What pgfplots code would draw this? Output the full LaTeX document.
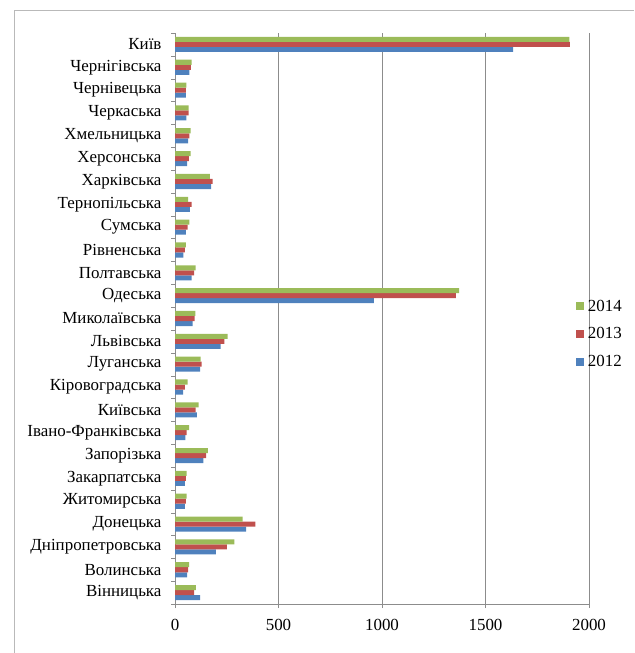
\documentclass[border=0pt]{standalone}
\usepackage{fontspec}
\setmainfont{Liberation Serif}
\usepackage{pgfplots}
\pgfplotsset{compat=1.18}
\usepackage{pgfplotstable}

\definecolor{c2012}{HTML}{4F81BD}
\definecolor{c2013}{HTML}{C0504D}
\definecolor{c2014}{HTML}{9BBB59}
\definecolor{gridgray}{HTML}{8C8C8C}
\newcommand\lbl{\fontsize{17}{19}\selectfont}

% y = position (0 = bottom), values per year
\pgfplotstableread{
y  v2012 v2013 v2014
0  121   92    101
1  58    64    68
2  198   250   287
3  343   388   327
4  48    52    56
5  48    52    56
6  137   150   159
7  50    56    68
8  106   100   114
9  39    48    61
10 121   129   124
11 221   238   254
12 85    95    98
13 961   1357  1373
14 80    92    100
15 40    48    53
16 52    61    69
17 72    80    64
18 174   182   168
19 59    67    76
20 64    69    76
21 55    66    66
22 52    52    55
23 69    77    80
24 1634  1908  1905
}\regions

\begin{document}
\begin{tikzpicture}
\path[use as bounding box] (0,0) rectangle (635bp,-653bp);
\draw[gray!55, line width=0.8bp] (14bp,-653bp) -- (14bp,-10bp) -- (634bp,-10bp);
\begin{axis}[
    at={(175bp,-604bp)}, anchor=south west,
    scale only axis,
    width=414bp, height=571bp,
    xbar, bar width=0.22,
    xmin=0, xmax=2000,
    ymin=-0.5, ymax=24.5,
    axis x line*=bottom, axis y line*=left,
    axis line style={gridgray, -},
    xtick={0,500,...,2000},
    xmajorgrids, major grid style={gridgray, line width=0.8bp},
    ytick={0,...,24},
    yticklabels={Вінницька,Волинська,Дніпропетровська,Донецька,Житомирська,Закарпатська,Запорізька,Івано-Франківська,Київська,Кіровоградська,Луганська,Львівська,Миколаївська,Одеська,Полтавська,Рівненська,Сумська,Тернопільська,Харківська,Херсонська,Хмельницька,Черкаська,Чернівецька,Чернігівська,Київ},
    minor ytick={-0.5,0.5,...,24.5},
    major tick length=0bp,
    minor tick length=4bp,
    tick align=outside,
    minor tick style={gridgray},
    extra x ticks={0,500,...,2000}, extra x tick labels={},
    extra x tick style={major tick length=4bp, tick style={gridgray}, grid=none},
    tick label style={font=\lbl, black},
    yticklabel style={xshift=-10bp},
    xticklabel style={yshift=-12bp},
    /pgf/number format/assume math mode=true,
    /pgf/number format/1000 sep={},
    legend style={at={(0.969,0.473)}, anchor=west, draw=none, fill=none,
        font=\lbl, row sep=15bp, inner sep=0pt,
        nodes={inner xsep=3.5bp, inner ysep=0pt}},
    legend cell align=left,
    reverse legend,
    legend image code/.code={\fill[#1] (0bp,-4bp) rectangle (8bp,4bp);},
]
\addplot[draw=none, fill=c2012, bar shift=-0.22] table[x=v2012, y=y] {\regions};
\addplot[draw=none, fill=c2013, bar shift=0] table[x=v2013, y=y] {\regions};
\addplot[draw=none, fill=c2014, bar shift=0.22] table[x=v2014, y=y] {\regions};
\legend{2012,2013,2014}
\end{axis}
\end{tikzpicture}
\end{document}
